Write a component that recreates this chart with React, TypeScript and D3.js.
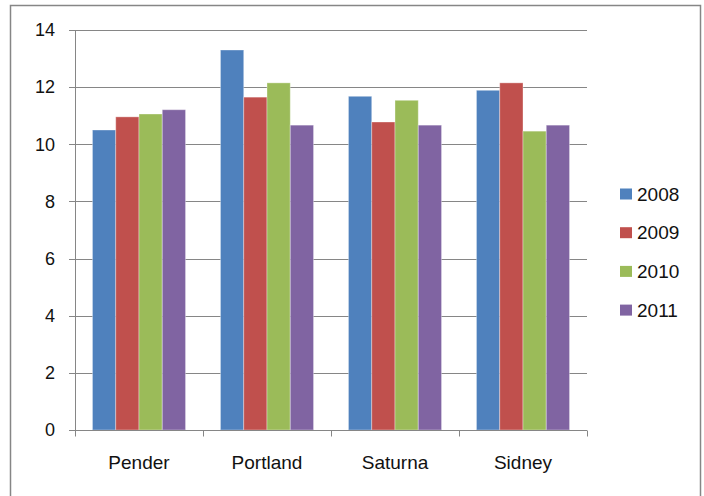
import React, { useEffect, useRef } from 'react';
import * as d3 from 'd3';

const categories = ['Pender', 'Portland', 'Saturna', 'Sidney'];
const years = ['2008', '2009', '2010', '2011'];
const v2008 = [10.5, 13.3, 11.68, 11.89];
const v2009 = [10.96, 11.65, 10.78, 12.15];
const v2010 = [11.06, 12.15, 11.54, 10.46];
const v2011 = [11.21, 10.67, 10.67, 10.67];
const yTicks = [0, 2, 4, 6, 8, 10, 12, 14];
const colors = ['#4F81BD', '#C0504D', '#9BBB59', '#8064A2'];

const seriesValues = [v2008, v2009, v2010, v2011];

export default function App() {
  const ref = useRef<SVGSVGElement>(null);

  useEffect(() => {
    const width = 704;
    const height = 496;
    const margin = { top: 30, right: 117, bottom: 66, left: 75 };
    const font = '"Liberation Sans", Arial, sans-serif';

    const svg = d3.select(ref.current);
    svg.selectAll('*').remove();

    // outer chart frame
    svg.append('rect')
      .attr('x', 10.5)
      .attr('y', 5.5)
      .attr('width', 690)
      .attr('height', 500)
      .attr('fill', '#fff')
      .attr('stroke', '#868686')
      .attr('stroke-width', 1.5);

    const x = d3.scaleBand()
      .domain(categories)
      .range([margin.left, width - margin.right]);

    // gap width ~150% of a bar
    const barW = x.bandwidth() / (years.length + 1.5);
    const xInner = d3.scaleBand()
      .domain(years)
      .range([0, barW * years.length]);

    const y = d3.scaleLinear()
      .domain([0, 14])
      .range([height - margin.bottom, margin.top]);

    // gridlines
    svg.append('g')
      .selectAll('line')
      .data(yTicks)
      .enter()
      .append('line')
      .attr('x1', margin.left - 6)
      .attr('x2', width - margin.right)
      .attr('y1', d => Math.round(y(d)) + 0.5)
      .attr('y2', d => Math.round(y(d)) + 0.5)
      .attr('stroke', '#868686')
      .attr('stroke-width', 1);

    // y labels
    svg.append('g')
      .selectAll('text')
      .data(yTicks)
      .enter()
      .append('text')
      .attr('x', margin.left - 20)
      .attr('y', d => y(d))
      .attr('dy', '0.35em')
      .attr('text-anchor', 'end')
      .attr('font-family', font)
      .attr('font-size', 18)
      .attr('fill', '#111')
      .text(d => d);

    // bars
    const groups = svg.append('g')
      .selectAll('g')
      .data(categories)
      .enter()
      .append('g')
      .attr('transform', c => `translate(${x(c)! + (x.bandwidth() - barW * years.length) / 2},0)`);

    groups.selectAll('rect')
      .data((c, i) => years.map((yr, s) => ({ yr, s, v: seriesValues[s][i] })))
      .enter()
      .append('rect')
      .attr('x', d => xInner(d.yr)!)
      .attr('y', d => y(d.v))
      .attr('width', xInner.bandwidth())
      .attr('height', d => y(0) - y(d.v))
      .attr('fill', d => colors[d.s])
      .attr('stroke', 'rgba(255,255,255,0.35)')
      .attr('stroke-width', 1);

    // y axis line
    svg.append('line')
      .attr('x1', margin.left + 0.5)
      .attr('x2', margin.left + 0.5)
      .attr('y1', margin.top)
      .attr('y2', height - margin.bottom + 6)
      .attr('stroke', '#868686');

    // x axis line and ticks
    const x0 = Math.round(y(0)) + 0.5;
    svg.append('line')
      .attr('x1', margin.left)
      .attr('x2', width - margin.right)
      .attr('y1', x0)
      .attr('y2', x0)
      .attr('stroke', '#868686');

    const edges = categories.map(c => x(c)!).concat([width - margin.right]);
    svg.append('g')
      .selectAll('line')
      .data(edges)
      .enter()
      .append('line')
      .attr('x1', d => Math.round(d) + 0.5)
      .attr('x2', d => Math.round(d) + 0.5)
      .attr('y1', x0)
      .attr('y2', x0 + 6)
      .attr('stroke', '#868686');

    // category labels
    svg.append('g')
      .selectAll('text')
      .data(categories)
      .enter()
      .append('text')
      .attr('x', c => x(c)! + x.bandwidth() / 2)
      .attr('y', 469)
      .attr('text-anchor', 'middle')
      .attr('font-family', font)
      .attr('font-size', 19)
      .attr('fill', '#111')
      .text(c => c);

    // legend
    const legend = svg.append('g')
      .selectAll('g')
      .data(years)
      .enter()
      .append('g')
      .attr('transform', (d, i) => `translate(620,${194 + i * 38.7})`);

    legend.append('rect')
      .attr('x', 0)
      .attr('y', -5.5)
      .attr('width', 12)
      .attr('height', 11)
      .attr('fill', (d, i) => colors[i]);

    legend.append('text')
      .attr('x', 17)
      .attr('y', 0)
      .attr('dy', '0.35em')
      .attr('font-family', font)
      .attr('font-size', 19)
      .attr('fill', '#111')
      .text(d => d);
  }, []);

  return (
    <svg
      ref={ref}
      width={704}
      height={496}
      style={{ position: 'absolute', left: 0, top: 0, background: '#fff' }}
    />
  );
}
